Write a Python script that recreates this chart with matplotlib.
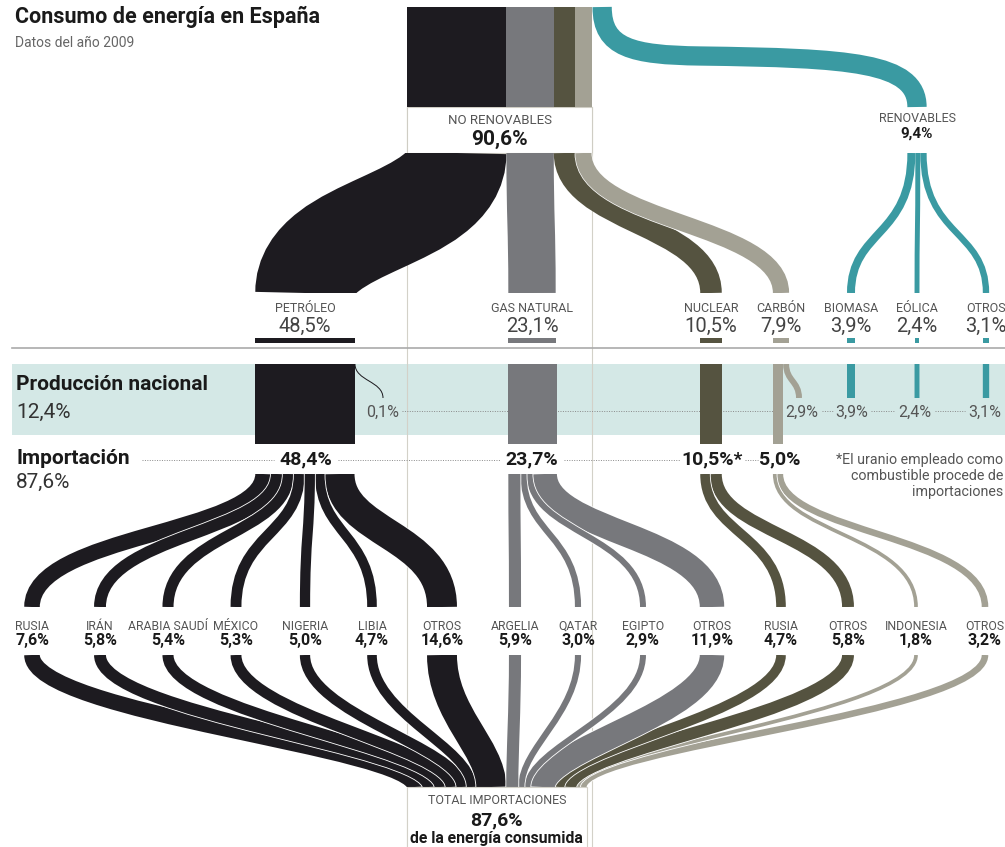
import numpy as np
import matplotlib.pyplot as plt
from matplotlib.path import Path
from matplotlib.patches import PathPatch, Rectangle
import matplotlib.patheffects as pe

plt.rcParams['font.family'] = ['Roboto', 'DejaVu Sans']

# datos (% de la energia consumida, 2009)
fuentes = ['PETRÓLEO', 'GAS NATURAL', 'NUCLEAR', 'CARBÓN', 'BIOMASA', 'EÓLICA', 'OTROS']
consumo = [48.5, 23.1, 10.5, 7.9, 3.9, 2.4, 3.1]
produccion = [0.1, 0.0, 0.0, 2.9, 3.9, 2.4, 3.1]
importacion = [48.4, 23.7, 10.5, 5.0]
imp_labels = ['48,4%', '23,7%', '10,5%*', '5,0%']
no_renov, renov = 90.6, 9.4
total_prod, total_imp = 12.4, 87.6

paises = ['RUSIA', 'IRÁN', 'ARABIA SAUDÍ', 'MÉXICO', 'NIGERIA', 'LIBIA', 'OTROS',
          'ARGELIA', 'QATAR', 'EGIPTO', 'OTROS',
          'RUSIA', 'OTROS',
          'INDONESIA', 'OTROS']
pais_val = [7.6, 5.8, 5.4, 5.3, 5.0, 4.7, 14.6, 5.9, 3.0, 2.9, 11.9, 4.7, 5.8, 1.8, 3.2]
pais_fuente = [0] * 7 + [1] * 4 + [2] * 2 + [3] * 2

# layout (pixels)
colores = ['#1d1b20', '#77787c', '#555340', '#a3a194', '#3a9aa2', '#3a9aa2', '#3a9aa2']
col_x = [305, 532, 711, 781, 851, 917, 986]
pais_x = [32, 100, 168, 236, 305, 372, 442, 515, 578, 643, 712, 781, 848, 916, 985]
prod_x = [383, None, None, 802, 852, 915, 985]
imp_x = [306, 532, 712, 780]
S = 2.05  # px per %
W, H = 1005, 847
X0 = 407

fig = plt.figure(figsize=(W / 100, H / 100), dpi=100)
ax = fig.add_axes([0, 0, 1, 1])
ax.set_xlim(0, W)
ax.set_ylim(H, 0)
ax.axis('off')


def pt(px):
    return px * 72 / 100


def pct(v):
    return ('%.1f%%' % v).replace('.', ',')


def ribbon(x0, y0, x1, y1, w, color, a=0.5, b=0.5, z=3, edge=0):
    dy = y1 - y0
    verts = [(x0, y0), (x0, y0 + a * dy), (x1, y1 - b * dy), (x1, y1)]
    codes = [Path.MOVETO, Path.CURVE4, Path.CURVE4, Path.CURVE4]
    p = PathPatch(Path(verts, codes), fill=False, edgecolor=color, lw=pt(w),
                  capstyle='butt', zorder=z)
    if edge:
        p.set_path_effects([pe.Stroke(linewidth=pt(w) + edge, foreground='white'), pe.Normal()])
    ax.add_patch(p)
    p.set_clip_path(Rectangle((-50, y0), W + 100, dy, transform=ax.transData))
    return p


def txt(x, y, s, size=9, bold=False, color='#555555', ha='center'):
    ax.text(x, y, s, fontsize=size, fontweight='bold' if bold else 'normal',
            color=color, ha=ha, va='center', zorder=10)


# titulo
txt(15, 17, 'Consumo de energía en España', 15.5, True, '#1a1a1a', 'left')
txt(15, 43, 'Datos del año 2009', 10, False, '#666666', 'left')

# lineas guia verticales
for xl in [X0, X0 + no_renov * S - 1]:
    ax.plot([xl, xl], [107, H], color='#d3d1c8', lw=0.8, zorder=1)

# bloque superior
xs = X0
top_c = []
for v, c in zip(consumo[:4], colores[:4]):
    ax.add_patch(Rectangle((xs, 7), v * S, 100, color=c, lw=0, zorder=3))
    top_c.append(xs + v * S / 2)
    xs += v * S
ax.add_patch(Rectangle((X0, 107), no_renov * S - 1, 46, fc='white', ec='#cfcdc4', lw=0.8, zorder=2))
txt(X0 + no_renov * S / 2, 121, 'NO RENOVABLES', 9.5)
txt(X0 + no_renov * S / 2, 139, '90,6%', 15, True, '#1a1a1a')

# renovables
tw = renov * S
tx = xs + tw / 2 + 1
verts = [(tx, 7), (tx, 48), (tx + 30, 55), (700, 56),
         (850, 58), (col_x[5], 62), (col_x[5], 107)]
codes = [Path.MOVETO] + [Path.CURVE4] * 6
ax.add_patch(PathPatch(Path(verts, codes), fill=False, edgecolor=colores[4],
                       lw=pt(tw), capstyle='butt', zorder=3))
txt(col_x[5], 119, 'RENOVABLES', 9)
txt(col_x[5], 134, '9,4%', 11, True, '#1a1a1a')

# del bloque a cada fuente
for k in range(4):
    ribbon(top_c[k], 153, col_x[k], 293, consumo[k] * S, colores[k], 0.5, 0.5,
           z=3 + k * 0.1, edge=1 if k == 3 else 0)
xr = col_x[5] - tw / 2
for k in range(4, 7):
    w = consumo[k] * S
    ribbon(xr + w / 2, 153, col_x[k], 293, w, colores[k], 0.6, 0.45)
    xr += w

# etiquetas de fuentes
for k in range(7):
    w = consumo[k] * S
    txt(col_x[k], 308, fuentes[k], 9)
    txt(col_x[k], 326, pct(consumo[k]), 14.5, False, '#444444')
    ax.add_patch(Rectangle((col_x[k] - w / 2, 338), w, 5, color=colores[k], lw=0, zorder=3))

ax.plot([12, W], [348, 348], color='#aaaaaa', lw=1.2, zorder=2)

# produccion nacional
ax.add_patch(Rectangle((12, 364), W - 12, 71, color='#d4e8e6', lw=0, zorder=0))
txt(16, 385, 'Producción nacional', 15, True, '#1a1a1a', 'left')
txt(16, 412, '12,4%', 15, False, '#333333', 'left')
imp_left = []
for k in range(7):
    L = col_x[k] - consumo[k] * S / 2
    wi = importacion[k] * S if k < 4 else 0
    if k < 4:
        ax.add_patch(Rectangle((L, 364), wi, 80, color=colores[k], lw=0, zorder=3))
        imp_left.append(L)
    if produccion[k] > 0:
        wp = max(produccion[k] * S, 1.0)
        ribbon(L + wi + wp / 2, 364, prod_x[k] if k == 0 else col_x[k] + (18 if k == 3 else 0),
               398, wp, colores[k], 0.5, 0.5)
for k in range(7):
    if produccion[k] > 0:
        txt(prod_x[k], 412, pct(produccion[k]), 11.5)
dot = dict(color='#8a8a8a', lw=0.7, ls=(0, (1, 1.5)), zorder=2)
ax.plot([402, 783], [411, 411], **dot)
ax.plot([822, 834], [411, 411], **dot)
ax.plot([871, 895], [411, 411], **dot)
ax.plot([935, 965], [411, 411], **dot)

# importacion
txt(16, 459, 'Importación', 15, True, '#1a1a1a', 'left')
txt(16, 482, '87,6%', 15, False, '#333333', 'left')
for k in range(4):
    txt(imp_x[k], 459, imp_labels[k], 14, True, '#1a1a1a')
ax.plot([142, 274], [460, 460], **dot)
ax.plot([338, 500], [460, 460], **dot)
ax.plot([564, 680], [460, 460], **dot)
ax.plot([745, 758], [460, 460], **dot)
for i, line in enumerate(['*El uranio empleado como', 'combustible procede de', 'importaciones']):
    txt(1003, 460 + i * 16, line, 10.3, False, '#555555', 'right')

# abanico de paises
pos = list(imp_left)
starts = []
for i, v in enumerate(pais_val):
    k = pais_fuente[i]
    w = v * S
    starts.append(pos[k] + w / 2)
    pos[k] += w
order = sorted(range(len(pais_val)), key=lambda i: -abs(starts[i] - pais_x[i]))
for i in order:
    k = pais_fuente[i]
    ribbon(starts[i], 474, pais_x[i], 607, pais_val[i] * S, colores[k], 0.45, 0.55,
           z=3 + 0.01 * (200 - abs(starts[i] - pais_x[i])) / 200, edge=1.2)

for i in range(len(paises)):
    txt(pais_x[i], 626, paises[i], 8.8)
    txt(pais_x[i], 641, pct(pais_val[i]), 11.5, True, '#1a1a1a')

# hacia el total de importaciones
xd = X0
dest = []
for v in pais_val:
    dest.append(xd + v * S / 2)
    xd += v * S
for i in order:
    k = pais_fuente[i]
    d = abs(dest[i] - pais_x[i])
    ribbon(pais_x[i], 655, dest[i], 787, pais_val[i] * S, colores[k], 0.45, 0.3,
           z=3 + 0.01 * (500 - d) / 500, edge=1.2)

ax.add_patch(Rectangle((X0, 787), total_imp * S, 70, fc='white', ec='#d3d1c8', lw=0.8, zorder=4))
txt(X0 + total_imp * S / 2, 801, 'TOTAL IMPORTACIONES', 9)
txt(X0 + total_imp * S / 2, 820, '87,6%', 14, True, '#1a1a1a')
txt(X0 + total_imp * S / 2, 838, 'de la energía consumida', 11.3, True, '#1a1a1a')

fig.savefig('out.png', dpi=100)
